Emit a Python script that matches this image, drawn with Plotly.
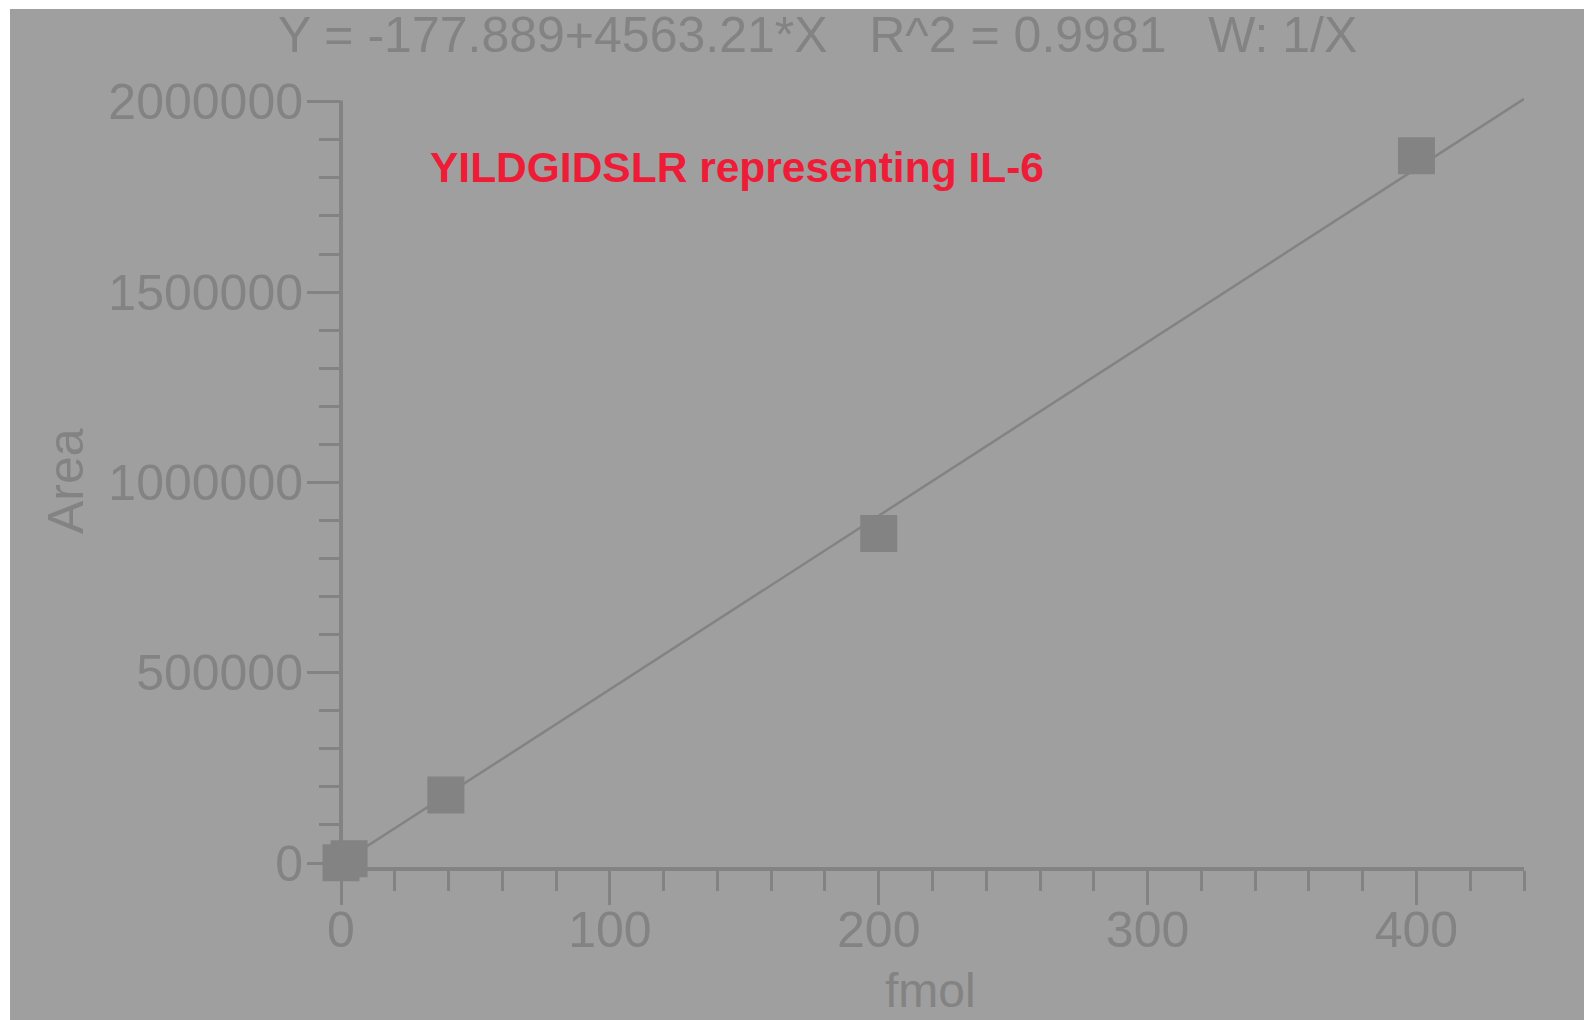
import plotly.graph_objects as go

# ---- data ----
fmol = [0, 3, 39, 200, 400]
area = [500, 11000, 178700, 866000, 1858000]

fit_intercept = -177.889
fit_slope = 4563.21
fit_x = [0, 440]
fit_y = [fit_intercept + fit_slope * v for v in fit_x]

title_text = "Y = -177.889+4563.21*X   R^2 = 0.9981   W: 1/X"
label_text = "YILDGIDSLR representing IL-6"
x_title = "fmol"
y_title = "Area"
x_ticks = [0, 100, 200, 300, 400]
y_ticks = [0, 500000, 1000000, 1500000, 2000000]

BG = "#9f9f9f"
FG = "#838383"
RED = "#ee1c36"
FONT = "Liberation Sans, Arial, sans-serif"

W, H = 1584, 1020
L, R, T, B = 341, 60, 98, 153
pw, ph = W - L - R, H - T - B

def px(xp):
    return (xp - L) / pw

def py(yp):
    return (H - B - yp) / ph

fig = go.Figure()
fig.add_trace(go.Scatter(x=fit_x, y=fit_y, mode="lines",
                         line=dict(color=FG, width=2.5), hoverinfo="skip",
                         showlegend=False))
fig.add_trace(go.Scatter(x=fmol, y=area, mode="markers", cliponaxis=False,
                         marker=dict(symbol="square", size=37, color=FG,
                                     line=dict(width=0)),
                         showlegend=False))

tick_common = dict(showgrid=False, zeroline=False,
                   ticks="outside", tickcolor=FG, tickwidth=3,
                   tickfont=dict(family=FONT, size=50, color=FG))

fig.update_xaxes(range=[0, 440], tickvals=x_ticks, ticklen=34,
                 showline=True, linecolor=FG, linewidth=4,
                 ticklabelstandoff=-18,
                 minor=dict(dtick=20, ticklen=20, tickcolor=FG, tickwidth=3,
                            ticks="outside"),
                 **tick_common)
fig.update_yaxes(range=[-10500, 2010000], tickvals=y_ticks, ticklen=33,
                 showline=False, tickformat="d", ticklabelstandoff=-6,
                 minor=dict(dtick=100000, ticklen=21, tickcolor=FG,
                            tickwidth=3, ticks="outside"),
                 **tick_common)

fig.update_layout(
    width=W, height=H,
    margin=dict(l=L, r=R, t=T, b=B, autoexpand=False),
    paper_bgcolor=BG, plot_bgcolor=BG,
    shapes=[
        dict(type="rect", xref="paper", yref="paper", layer="below",
             x0=px(0), x1=px(W), y0=py(0), y1=py(9),
             fillcolor="white", line=dict(width=0)),
        dict(type="rect", xref="paper", yref="paper", layer="below",
             x0=px(0), x1=px(10), y0=py(H), y1=py(0),
             fillcolor="white", line=dict(width=0)),
        # y axis line (drawn so it coincides with the x=0 tick)
        dict(type="line", xref="paper", yref="paper", layer="above",
             x0=0, x1=0, y0=py(869), y1=py(100.5),
             line=dict(color=FG, width=4)),
    ],
    annotations=[
        dict(text=title_text, xref="paper", yref="paper",
             x=px(817), y=py(35), xanchor="center", yanchor="middle",
             showarrow=False, font=dict(family=FONT, size=50, color=FG)),
        dict(text="<b>" + label_text + "</b>", xref="paper", yref="paper",
             x=px(737), y=py(167), xanchor="center", yanchor="middle",
             showarrow=False, font=dict(family=FONT, size=42.5, color=RED)),
        dict(text=x_title, xref="paper", yref="paper",
             x=px(930), y=py(990), xanchor="center", yanchor="middle",
             showarrow=False, font=dict(family=FONT, size=48, color=FG)),
        dict(text=y_title, xref="paper", yref="paper", textangle=-90,
             x=px(66), y=py(481), xanchor="center", yanchor="middle",
             showarrow=False, font=dict(family=FONT, size=50, color=FG)),
    ],
)

fig.write_html("out.html")
